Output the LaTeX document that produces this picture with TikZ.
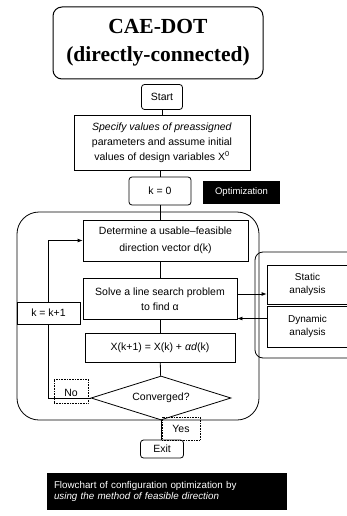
\documentclass[tikz,border=0pt]{standalone}
\usepackage{fontspec}
\setmainfont{Liberation Sans}
\newfontfamily\titolofont{Liberation Serif}
\usetikzlibrary{shapes.geometric,arrows.meta}

\begin{document}
\begin{tikzpicture}[x=1pt,y=-1pt,>={Latex[length=5pt,width=4pt]},line width=0.8pt,
    every node/.style={align=center,inner sep=0pt,font=\fontsize{10.5}{15}\selectfont},
    box/.style={draw,line width=0.8pt},
    rbox/.style={box,rounded corners=3pt},
    tag/.style={draw,densely dotted,line width=0.6pt},
    nero/.style={fill=black,text=white}]
    \useasboundingbox (0,0) rectangle (346,516);

    % titolo
    \node[box,line width=1pt,rounded corners=9pt,minimum width=210pt,minimum height=72pt,
          font=\titolofont\bfseries\fontsize{21.5}{28}\selectfont] (titolo) at (158,43)
          {CAE-DOT\\(directly-connected)};

    % avvio
    \node[rbox,minimum width=41pt,minimum height=25pt] (start) at (162,97) {Start};
    \node[box,minimum width=176pt,minimum height=55pt] (spec) at (162,143)
          {\textit{Specify values of preassigned}\\parameters and assume initial\\values of design variables X\textsuperscript{0}};
    \node[rbox,minimum width=62pt,minimum height=28pt] (k0) at (160,191) {k = 0};
    \node[nero,minimum width=77pt,minimum height=23pt,font=\fontsize{9.5}{11}\selectfont] (opt) at (241.5,192.5) {Optimization};

    % ciclo
    \draw[rounded corners=22pt] (17,212) rectangle (259,420);
    \node[box,minimum width=165pt,minimum height=41pt,font=\fontsize{10.5}{16.5}\selectfont] (det) at (165.5,240.5)
          {Determine a usable--feasible\\direction vector d(k)};
    \node[box,minimum width=154pt,minimum height=41pt] (solve) at (160,299)
          {Solve a line search problem\\to find α};
    \node[box,minimum width=150pt,minimum height=29pt] (agg) at (160,347.5)
          {X(k+1) = X(k) + \textit{αd}(k)};
    \node[draw,diamond,aspect=3,minimum width=140pt,minimum height=44pt] (conv) at (161,398) {Converged?};
    \node[box,minimum width=63pt,minimum height=22pt] (incr) at (48.5,313) {k = k+1};
    \node[tag,minimum width=34pt,minimum height=24pt,text height=13pt,text depth=2pt] (no) at (71,391) {No};
    \node[tag,minimum width=38pt,minimum height=23pt] (yes) at (181,428.5) {Yes};
    \node[rbox,minimum width=43pt,minimum height=18pt] (exit) at (162,449) {Exit};

    % analisi
    \draw[rounded corners=8pt] (255,252) rectangle (370,358);
    \node[box,minimum width=81pt,minimum height=39pt,font=\fontsize{10}{13}\selectfont] (static) at (307.5,284.5) {Static\\analysis};
    \node[box,minimum width=81pt,minimum height=41pt,font=\fontsize{10}{13}\selectfont] (dyn) at (307.5,326.5) {Dynamic\\analysis};

    % didascalia
    \node[nero,align=left,minimum width=240pt,minimum height=37pt,text width=226pt,
          font=\fontsize{9.8}{11.5}\selectfont] (didas) at (167,491.5)
          {Flowchart of configuration optimization by\\\textit{using the method of feasible direction}};

    % collegamenti
    \draw (start) -- (start |- spec.north);
    \draw (spec.south -| k0) -- (k0);
    \draw (k0) -- (k0 |- det.north);
    \draw (det.south -| solve) -- (solve);
    \draw (solve) -- (agg);
    \draw (agg) -- (conv);
    \draw (conv.south) -- (conv.south |- exit.north);

    % ritorno
    \draw (conv.west) -- (conv.west -| incr) -- (incr);
    \draw[->] (incr) |- (det);

    % scambio con l'analisi
    \draw[->] ([yshift=5pt]solve.east) -- ([yshift=5pt]solve.east -| static.west);
    \draw[->] ([yshift=8pt]dyn.west) -- ([yshift=8pt]dyn.west -| solve.east);
\end{tikzpicture}
\end{document}
